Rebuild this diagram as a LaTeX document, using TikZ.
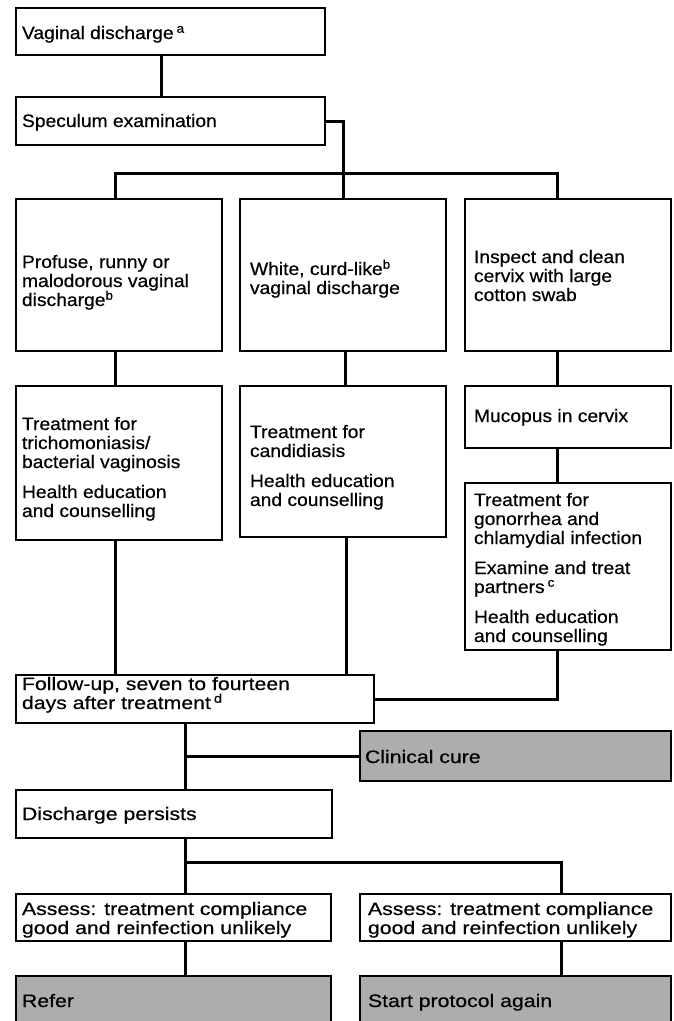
\documentclass[tikz,border=0pt]{standalone}
\usepackage{fontspec}
\setmainfont{Liberation Sans}[FakeStretch=1.07,FakeBold=0.5]
\newfontfamily\widefont{Liberation Sans}[FakeStretch=1.18,FakeBold=0.5]
\newcommand\Ltxt[1]{\vtop{\baselineskip=19pt\lineskiplimit=-20pt\lineskip=0pt\halign{##\hfil\cr#1\crcr}}}
\newcommand\pgap{\noalign{\vskip 11pt}}
\definecolor{halftone}{gray}{0.68}
\begin{document}
\begin{tikzpicture}[x=1pt,y=-1pt,
  box/.style={draw=black,line width=1.3pt,fill=white,anchor=north west,inner sep=0pt,outer sep=0pt},
  gbox/.style={box,fill=halftone},
  txt/.style={anchor=base west,inner sep=0pt,outer sep=0pt,font=\fontsize{18}{19}\selectfont},
  wtxt/.style={txt,font=\widefont\fontsize{18}{19}\selectfont},
  link/.style={draw=black,line width=3pt,line join=miter}
]
\useasboundingbox (0,0) rectangle (674,1021);
\clip (0,0) rectangle (674,1021);
\fill[white] (0,0) rectangle (674,1021);

% boxes
\node[box,minimum width=309,minimum height=47] (b1) at (16,8) {};
\node[box,minimum width=309,minimum height=48] (b2) at (16,97) {};
\node[box,minimum width=206,minimum height=152] (r1l) at (16,199) {};
\node[box,minimum width=206,minimum height=152] (r1m) at (240,199) {};
\node[box,minimum width=206,minimum height=152] (r1r) at (465,199) {};
\node[box,minimum width=206,minimum height=154] (r2l) at (16,386) {};
\node[box,minimum width=206,minimum height=151] (r2m) at (240,386) {};
\node[box,minimum width=206,minimum height=62] (muc) at (465,386) {};
\node[box,minimum width=206,minimum height=167] (gon) at (465,483) {};
\node[box,minimum width=358,minimum height=48] (fol) at (16,675) {};
\node[gbox,minimum width=311,minimum height=50] (cure) at (360,731) {};
\node[box,minimum width=316,minimum height=48] (pers) at (16,790) {};
\node[box,minimum width=315,minimum height=47] (asl) at (16,894) {};
\node[box,minimum width=311,minimum height=47] (asr) at (360,894) {};
\node[gbox,minimum width=315,minimum height=60] (ref) at (16,976) {};
\node[gbox,minimum width=311,minimum height=60] (sta) at (360,976) {};

% connectors
\draw[link] ([xshift=145pt]b1.south west) -- ([xshift=145pt]b2.north west);
\draw[link] (b2.east) -| ([xshift=103pt]r1m.north west);
\draw[link] ([xshift=99pt]r1l.north west) -- ++(0,-26) -| ([xshift=92pt]r1r.north west);
\draw[link] ([xshift=99pt]r1l.south west) -- ([xshift=99pt]r2l.north west);
\draw[link] ([xshift=105pt]r1m.south west) -- ([xshift=105pt]r2m.north west);
\draw[link] ([xshift=92pt]r1r.south west) -- ([xshift=92pt]muc.north west);
\draw[link] ([xshift=92pt]muc.south west) -- ([xshift=92pt]gon.north west);
\draw[link] ([xshift=99pt]r2l.south west) -- ([xshift=99pt]fol.north west);
\draw[link] ([xshift=106pt]r2m.south west) -- ([xshift=330pt]fol.north west);
\draw[link] ([xshift=92pt]gon.south west) |- (fol.east);
\coordinate (trunk) at ([xshift=169pt]fol.south west);
\draw[link] (trunk) -- ([xshift=169pt]pers.north west);
\draw[link] (cure.west) -- (cure.west -| trunk);
\draw[link] ([xshift=169pt]pers.south west) -- ([xshift=169pt]asl.north west);
\draw[link] ([xshift=169pt]pers.south west) -- ++(0,24) -| ([xshift=201pt]asr.north west);
\draw[link] ([xshift=169pt]asl.south west) -- ([xshift=169pt]ref.north west);
\draw[link] ([xshift=201pt]asr.south west) -- ([xshift=201pt]sta.north west);

% texts
\node[txt] (t1) at (22,39) {Vaginal discharge\,\textsuperscript{a}};
\node[txt] (t2) at (22,127) {Speculum examination};
\node[txt] (t3) at (22,268) {\Ltxt{Profuse, runny or\cr malodorous vaginal\cr discharge\textsuperscript{b}}};
\node[txt] (t4) at (250,275) {\Ltxt{White, curd-like\textsuperscript{b}\cr vaginal discharge}};
\node[txt] (t5) at (474,263) {\Ltxt{Inspect and clean\cr cervix with large\cr cotton swab}};
\node[txt] (t6) at (22,430) {\Ltxt{Treatment for\cr trichomoniasis/\cr bacterial vaginosis\cr\pgap Health education\cr and counselling}};
\node[txt] (t7) at (250,438) {\Ltxt{Treatment for\cr candidiasis\cr\pgap Health education\cr and counselling}};
\node[txt] (t8) at (474,422) {Mucopus in cervix};
\node[txt] (t9) at (474,506) {\Ltxt{Treatment for\cr gonorrhea and\cr chlamydial infection\cr\pgap Examine and treat\cr partners\,\textsuperscript{c}\cr\pgap Health education\cr and counselling}};
\node[wtxt] (t10) at (22,690) {\Ltxt{Follow-up, seven to fourteen\cr days after treatment\,\textsuperscript{d}}};
\node[wtxt] (t11) at (365,763) {Clinical cure};
\node[wtxt] (t12) at (22,820) {Discharge persists};
\node[wtxt] (t13) at (22,915) {\Ltxt{Assess: treatment compliance\cr good and reinfection unlikely}};
\node[wtxt] (t14) at (368,915) {\Ltxt{Assess: treatment compliance\cr good and reinfection unlikely}};
\node[wtxt] (t15) at (22,1007) {Refer};
\node[wtxt] (t16) at (368,1007) {Start protocol again};
\end{tikzpicture}
\end{document}
